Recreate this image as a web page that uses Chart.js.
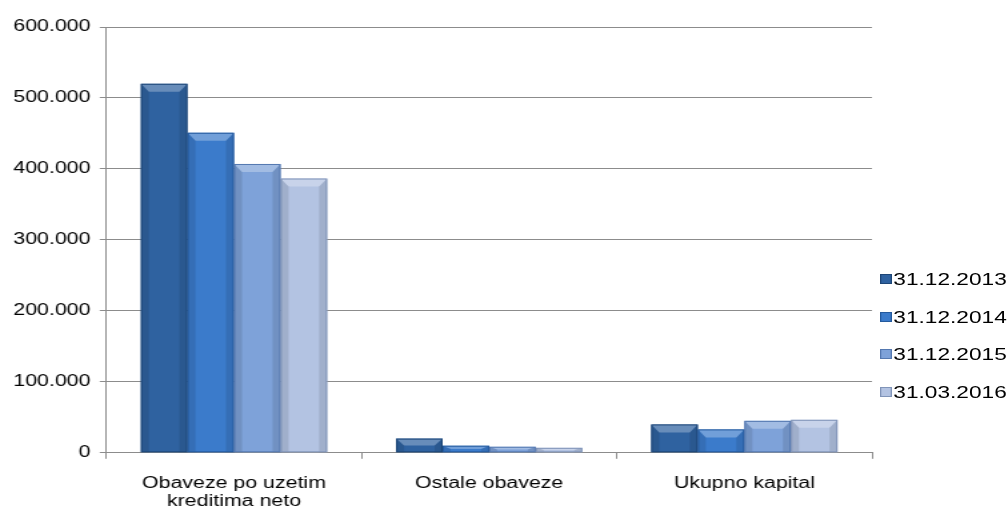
<!DOCTYPE html>
<html>
<head>
<meta charset="utf-8">
<script src="https://cdn.jsdelivr.net/npm/chart.js@4/dist/chart.umd.min.js"></script>
<style>
  html, body { margin: 0; padding: 0; background: #fff; overflow: hidden; }
  /* slika je u originalu razvucena vodoravno */
  #wrap { position: relative; width: 756px; height: 511px; transform: scaleX(1.3333); transform-origin: 0 0; }
  #legend { position: absolute; left: 660px; top: 268px; font-family: "Liberation Sans", Arial, sans-serif; font-size: 17px; color: #000; }
  #legend div { height: 37.5px; line-height: 24px; white-space: nowrap; }
  #legend span { display: inline-block; width: 7px; height: 8px; margin-right: 1px; vertical-align: 1px; }
</style>
</head>
<body>
<div id="wrap">
  <canvas id="c" width="756" height="511"></canvas>
  <div id="legend"></div>
</div>
<script>
// kategorije i serije
const categories = [['Obaveze po uzetim', 'kreditima neto'], 'Ostale obaveze', 'Ukupno kapital'];
const seriesNames = ['31.12.2013', '31.12.2014', '31.12.2015', '31.03.2016'];
const s2013 = [520000, 20000, 40000];
const s2014 = [451000, 10000, 33000];
const s2015 = [407000, 8500, 45000];
const s2016 = [386500, 7000, 46500];
const colors = ['#2f62a0', '#3b7bcb', '#7ea2d9', '#b3c3e2'];
const edges = ['#1d4677', '#245a9e', '#5478b0', '#8094b8'];

const fmt = v => String(v).replace(/\B(?=(\d{3})+(?!\d))/g, '.');

// efekt reljefa na stupcima
const bevel = {
    id: 'bevel',
    afterDatasetsDraw(chart) {
        const ctx = chart.ctx;
        chart.data.datasets.forEach((ds, i) => {
            chart.getDatasetMeta(i).data.forEach(bar => {
                const l = bar.x - bar.width / 2, r = bar.x + bar.width / 2;
                const t = bar.y, b = bar.base;
                const h = b - t;
                const d = Math.min(8, h / 2);
                const dx = Math.min(6, bar.width / 2);
                ctx.save();
                // gornja svijetla strana
                ctx.fillStyle = 'rgba(255,255,255,0.28)';
                ctx.beginPath();
                ctx.moveTo(l, t); ctx.lineTo(r, t); ctx.lineTo(r - dx, t + d); ctx.lineTo(l + dx, t + d); ctx.closePath();
                ctx.fill();
                // bocne tamnije strane
                ctx.fillStyle = 'rgba(0,0,0,0.10)';
                ctx.beginPath();
                ctx.moveTo(l, t); ctx.lineTo(l + dx, t + d); ctx.lineTo(l + dx, b); ctx.lineTo(l, b); ctx.closePath();
                ctx.fill();
                ctx.beginPath();
                ctx.moveTo(r, t); ctx.lineTo(r - dx, t + d); ctx.lineTo(r - dx, b); ctx.lineTo(r, b); ctx.closePath();
                ctx.fill();
                ctx.strokeStyle = edges[i];
                ctx.lineWidth = 1;
                ctx.strokeRect(l + 0.5, t + 0.5, bar.width - 1, h - 1);
                ctx.restore();
            });
        });
    }
};

const data_all = [s2013, s2014, s2015, s2016];

new Chart(document.getElementById('c'), {
    type: 'bar',
    data: {
        labels: categories,
        datasets: data_all.map((d, i) => ({
            label: seriesNames[i],
            data: d,
            backgroundColor: colors[i],
            borderWidth: 0,
            categoryPercentage: 0.73,
            barPercentage: 1.0
        }))
    },
    options: {
        responsive: false,
        animation: false,
        layout: { padding: { top: 27, right: 102, left: 3, bottom: -15 } },
        plugins: { legend: { display: false }, tooltip: { enabled: false } },
        scales: {
            x: {
                grid: { drawOnChartArea: false, drawTicks: true, tickLength: 6, color: '#8c8c8c', offset: true },
                border: { color: '#8c8c8c', width: 1 },
                ticks: { color: '#000', font: { family: 'Liberation Sans', size: 16, lineHeight: 1.1 }, padding: 16, maxRotation: 0 }
            },
            y: {
                min: 0,
                max: 600000,
                ticks: { stepSize: 100000, color: '#000', font: { family: 'Liberation Sans', size: 16 }, padding: 7, callback: v => fmt(v) },
                grid: { color: '#8c8c8c', tickLength: 5, lineWidth: 1 },
                border: { color: '#8c8c8c', width: 1 }
            }
        }
    },
    plugins: [bevel]
});

const lg = document.getElementById('legend');
seriesNames.forEach((n, i) => {
    const row = document.createElement('div');
    row.innerHTML = '<span style="background:' + colors[i] + ';border:1px solid ' + edges[i] + '"></span>' + n;
    lg.appendChild(row);
});
</script>
</body>
</html>
